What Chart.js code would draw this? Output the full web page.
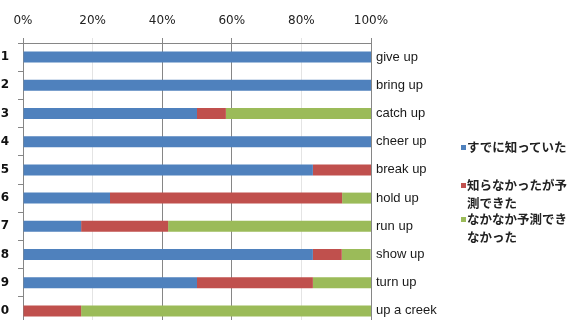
<!DOCTYPE html>
<html>
<head>
<meta charset="utf-8">
<script src="https://cdn.jsdelivr.net/npm/chart.js@4/dist/chart.umd.min.js"></script>
<style>
  body { margin: 0; background: #fff; }
  #wrap { position: relative; width: 572px; height: 320px; overflow: hidden; }
  #c { position: absolute; left: -5px; top: 0; }
  .lg { position: absolute; left: 467px; width: 105px; font-family: "Noto Sans CJK JP", sans-serif;
        font-size: 12.5px; font-weight: bold; line-height: 17.5px; color: #222; }
  .sq { position: absolute; left: 461px; width: 5px; height: 5px; }
</style>
</head>
<body>
<div id="wrap">
  <canvas id="c" width="577" height="325"></canvas>
  <div class="sq" style="top:145px;background:#4F81BD"></div>
  <div class="lg" style="top:138px">すでに知っていた</div>
  <div class="sq" style="top:183px;background:#C0504D"></div>
  <div class="lg" style="top:176px">知らなかったが予測できた</div>
  <div class="sq" style="top:217px;background:#9BBB59"></div>
  <div class="lg" style="top:210px">なかなか予測できなかった</div>
</div>
<script>
// 데이터
const categories = ['1', '2', '3', '4', '5', '6', '7', '8', '9', '10'];
const phrases = ['give up', 'bring up', 'catch up', 'cheer up', 'break up', 'hold up', 'run up', 'show up', 'turn up', 'up a creek'];
const seriesNames = ['すでに知っていた', '知らなかったが予測できた', 'なかなか予測できなかった'];
const knewIt = [100, 100, 50, 100, 83.3, 25, 16.7, 83.3, 50, 0];
const guessedIt = [0, 0, 8.3, 0, 16.7, 66.7, 25, 8.3, 33.3, 16.7];
const couldNotGuess = [0, 0, 41.7, 0, 0, 8.3, 58.3, 8.3, 16.7, 83.3];
const xTicks = [0, 20, 40, 60, 80, 100];

const colors = ['#4F81BD', '#C0504D', '#9BBB59'];

function gridColor(ctx) {
  const v = ctx.tick ? ctx.tick.value : 0;
  return (v === 20 || v === 80) ? '#e4e4e4' : '#868686';
}

// 축 크기 고정 (라벨 여백 제거)
function fixWidth(w) {
  return s => { s.width = w; s.paddingTop = 0; s.paddingBottom = 0; };
}

const ctx = document.getElementById('c').getContext('2d');
new Chart(ctx, {
  type: 'bar',
  data: {
    labels: categories,
    datasets: [knewIt, guessedIt, couldNotGuess].map((d, i) => ({
      label: seriesNames[i],
      data: d,
      backgroundColor: colors[i],
      barPercentage: 0.39,
      categoryPercentage: 1
    }))
  },
  options: {
    indexAxis: 'y',
    responsive: false,
    animation: false,
    layout: { padding: 0 },
    plugins: { legend: { display: false }, tooltip: { enabled: false } },
    scales: {
      x: {
        position: 'top',
        stacked: true,
        min: 0,
        max: 100,
        afterBuildTicks: s => { s.ticks = xTicks.map(v => ({ value: v })); },
        afterFit: s => { s.height = 43; },
        ticks: {
          padding: 10,
          color: '#222',
          font: { family: 'DejaVu Sans', size: 12 },
          callback: v => v + '%'
        },
        grid: { color: gridColor, tickLength: 5 },
        border: { color: '#868686' }
      },
      y: {
        stacked: true,
        afterFit: fixWidth(28),
        ticks: {
          padding: 9,
          color: '#111',
          font: { family: 'DejaVu Sans', size: 12, weight: 'bold' }
        },
        grid: { drawOnChartArea: false, tickLength: 5, color: '#868686' },
        border: { color: '#868686' }
      },
      y2: {
        type: 'category',
        position: 'right',
        labels: phrases,
        offset: true,
        afterFit: fixWidth(201),
        ticks: {
          padding: 5,
          color: '#1a1a1a',
          font: { family: 'Liberation Sans', size: 13 }
        },
        grid: { display: false, drawTicks: false },
        border: { display: false }
      }
    }
  }
});
</script>
</body>
</html>
